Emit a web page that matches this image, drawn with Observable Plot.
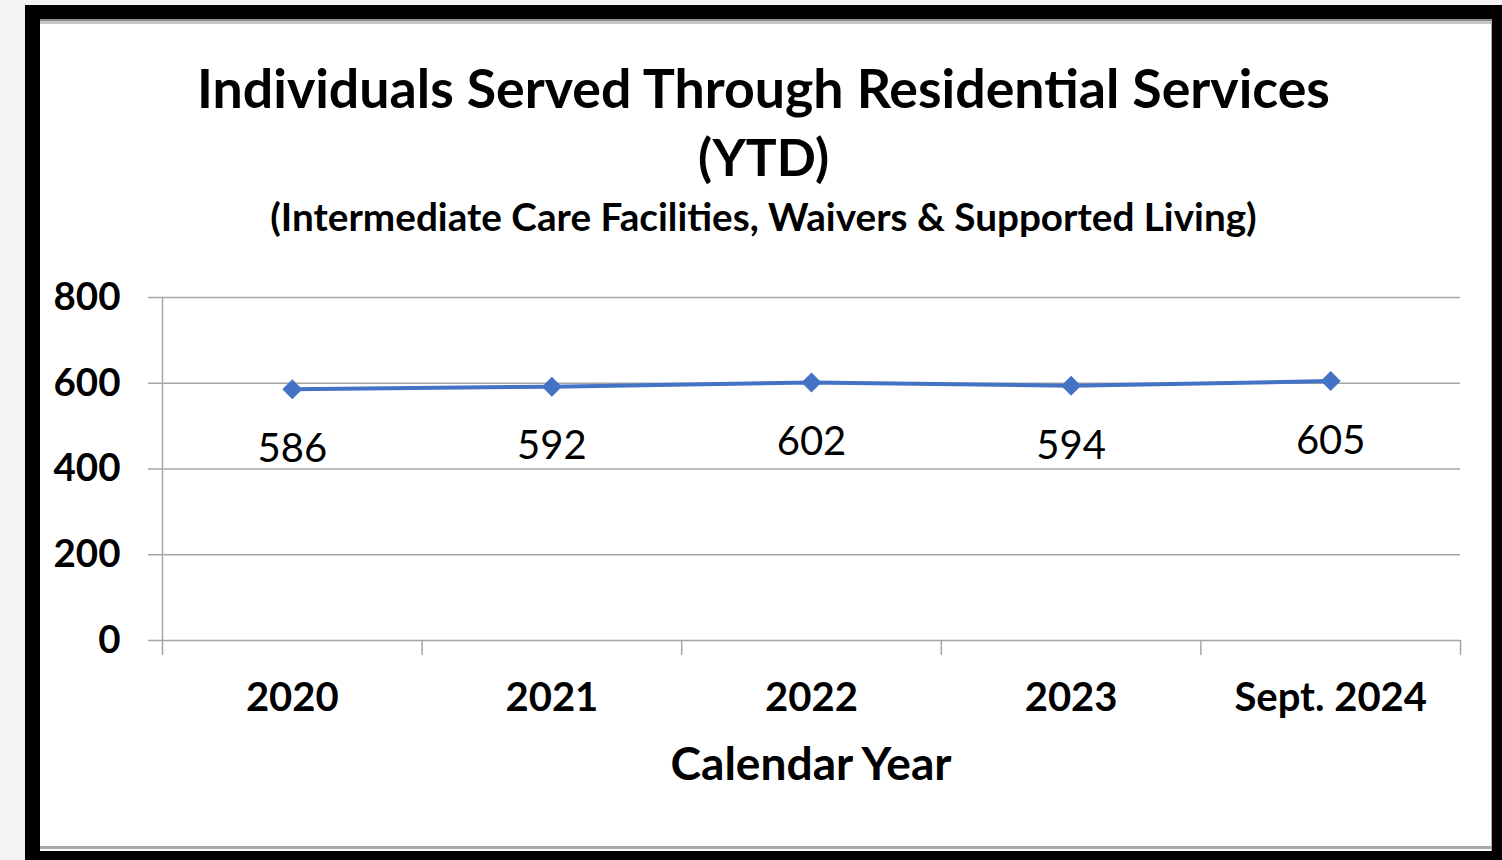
<!DOCTYPE html>
<html>
<head>
<meta charset="utf-8">
<script src="https://cdn.jsdelivr.net/npm/d3@7"></script>
<script src="https://cdn.jsdelivr.net/npm/@observablehq/plot@0.6"></script>
<style>
  html, body { margin: 0; padding: 0; background: #f3f3f3; width: 1502px; height: 860px; overflow: hidden; font-family: Lato, "Open Sans", sans-serif; }
  #outer { position: absolute; left: 25px; top: 5px; width: 1500px; height: 870px; background: #000; }
  #inner { position: absolute; left: 40px; top: 19px; width: 1451px; height: 830px; background: #fff;
           border-top: 2px solid #8c8c8c; border-right: 1px solid #a8a8a8;
           box-shadow: inset 0 3px 0 #c8c8c8, inset 0 -2px 0 #fff, inset 0 -5px 0 #a8a8a8; }
  #chart { position: absolute; left: 0; top: 250px; }
  #titles { position: absolute; left: 0; top: 0; pointer-events: none; }
</style>
</head>
<body>
<div id="outer"></div>
<div id="inner"></div>
<div id="chart"></div>
<svg id="titles" width="1502" height="860" font-family="Lato, 'Open Sans', sans-serif">
  <text class="fit" data-w="1133" x="763.5" y="108" text-anchor="middle" font-weight="bold" fill="#000">Individuals Served Through Residential Services</text>
  <text class="fitsame" x="763.5" y="176" text-anchor="middle" font-weight="bold" fill="#000">(YTD)</text>
  <text class="fit" data-w="987" x="763.5" y="231" text-anchor="middle" font-weight="bold" fill="#000">(Intermediate Care Facilities, Waivers &amp; Supported Living)</text>
  <text class="fit" data-w="281" x="811" y="780" text-anchor="middle" font-weight="bold" fill="#000">Calendar Year</text>
</svg>
<script>
const categories = ["2020", "2021", "2022", "2023", "Sept. 2024"];
const values = [586, 592, 602, 594, 605];
const yTicks = [0, 200, 400, 600, 800];

const data = categories.map((c, i) => ({i, c, v: values[i]}));
const centers = d3.range(categories.length);
const boundaries = d3.range(categories.length + 1).map(k => k - 0.5);

const grid = "#a6a6a6";
const blue = "#4472C4";

const chart = Plot.plot({
  width: 1502,
  height: 610,
  marginLeft: 162,
  marginRight: 42,
  marginTop: 47,
  marginBottom: 220,
  style: {background: "transparent", fontFamily: "Lato, 'Open Sans', sans-serif", overflow: "visible", color: "#000"},
  x: {type: "linear", domain: [-0.5, categories.length - 0.5], label: null},
  y: {domain: [0, 800], label: null},
  marks: [
    Plot.ruleY(yTicks, {stroke: grid, strokeWidth: 1.5}),
    Plot.ruleX([-0.5], {stroke: grid, strokeWidth: 1.5}),
    Plot.axisY({ticks: yTicks, tickSize: 14, tickPadding: 28, stroke: grid, strokeWidth: 1.5, strokeOpacity: 1,
                fontSize: 38.5, fontWeight: "bold", fill: "#000", label: null}),
    Plot.axisX({ticks: boundaries, tickSize: 15, tickFormat: () => "", stroke: grid, strokeWidth: 1.5, strokeOpacity: 1, label: null}),
    Plot.axisX({ticks: centers, tickSize: 0, tickPadding: 42, tickFormat: i => categories[i],
                fontSize: 40, fontWeight: "bold", fill: "#000", label: null}),
    Plot.line(data, {x: "i", y: "v", stroke: blue, strokeWidth: 4}),
    Plot.dot(data, {x: "i", y: "v", symbol: "diamond2", r: 9, fill: blue, stroke: "none"}),
    Plot.text(data, {x: "i", y: "v", text: d => String(d.v), dy: 60, fontSize: 40, fill: "#000"})
  ]
});
document.getElementById("chart").appendChild(chart);

// fit title text widths
let firstSize = 46;
document.querySelectorAll("#titles text.fit").forEach((el, k) => {
  el.setAttribute("font-size", 100);
  const w = el.getComputedTextLength();
  const size = 100 * (+el.dataset.w) / w;
  el.setAttribute("font-size", size.toFixed(2));
  if (k === 0) firstSize = size;
});
document.querySelectorAll("#titles text.fitsame").forEach(el => el.setAttribute("font-size", (firstSize * 0.96).toFixed(2)));
</script>
</body>
</html>
